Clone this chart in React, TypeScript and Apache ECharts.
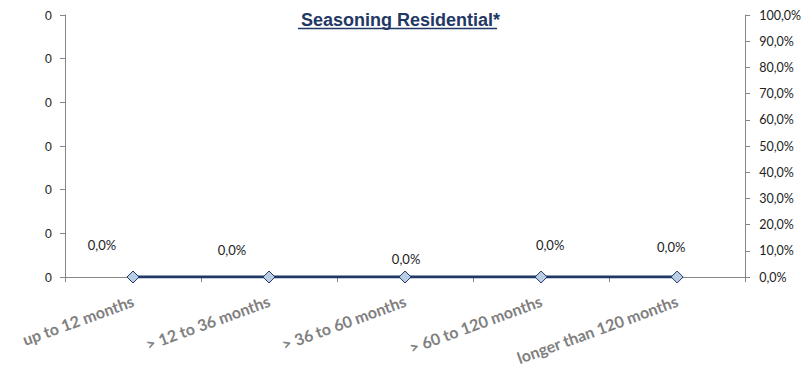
import React, { useEffect, useRef } from "react";
import * as echarts from "echarts";

const categories = [
  "up to 12 months",
  "> 12 to 36 months",
  "> 36 to 60 months",
  "> 60 to 120 months",
  "longer than 120 months",
];
const seriesValues = [0, 0, 0, 0, 0];
const leftTickLabels = ["0", "0", "0", "0", "0", "0", "0"];
const titleText = "Seasoning Residential*";

const labelOffsets: [number, number][] = [
  [-31, -32],
  [-37, -27],
  [1, -18],
  [9, -32],
  [-6, -30],
];

const NAVY = "#1F3864";

export default function App() {
  const ref = useRef<HTMLDivElement>(null);
  useEffect(() => {
    document.body.style.margin = "0";
    const chart = echarts.init(ref.current!, null, { renderer: "svg" });
    const fmtPct = (v: number) => (v * 100).toFixed(1).replace(".", ",") + "%";
    chart.setOption({
      animation: false,
      title: {
        text: titleText,
        left: 296,
        top: 6,
        textStyle: {
          fontFamily: "Liberation Sans",
          fontWeight: "bold",
          fontSize: 18,
          color: NAVY,
        },
      },
      graphic: [
        {
          type: "line",
          shape: { x1: 298, y1: 28.5, x2: 497, y2: 28.5 },
          style: { stroke: NAVY, lineWidth: 1.5 },
        },
      ],
      grid: { left: 65, right: 57, top: 15, bottom: 92, containLabel: false },
      xAxis: {
        type: "category",
        data: categories,
        boundaryGap: true,
        axisLine: { lineStyle: { color: "#868686", width: 1 } },
        axisTick: { show: true, length: 5, lineStyle: { color: "#868686" } },
        axisLabel: {
          rotate: 20,
          margin: 23,
          fontFamily: "Lato",
          fontWeight: "bold",
          fontSize: 16,
          color: "#808080",
          interval: 0,
        },
      },
      yAxis: [
        {
          type: "value",
          min: 0,
          max: 6,
          interval: 1,
          position: "left",
          axisLine: { show: true, lineStyle: { color: "#868686" } },
          axisTick: { show: true, length: 5, lineStyle: { color: "#868686" } },
          splitLine: { show: false },
          axisLabel: {
            margin: 13,
            fontFamily: "Liberation Sans",
            fontSize: 13,
            color: "#222",
            formatter: (_v: number, i: number) => leftTickLabels[i] ?? "0",
          },
        },
        {
          type: "value",
          min: 0,
          max: 1,
          interval: 0.1,
          position: "right",
          axisLine: { show: true, lineStyle: { color: "#868686" } },
          axisTick: { show: true, length: 5, lineStyle: { color: "#868686" } },
          splitLine: { show: false },
          axisLabel: {
            margin: 14,
            fontFamily: "Lato",
            fontSize: 12.5,
            color: "#222",
            formatter: (v: number) => fmtPct(v),
          },
        },
      ],
      series: [
        {
          type: "line",
          yAxisIndex: 1,
          data: seriesValues.map((v, i) => ({
            value: v,
            label: { offset: labelOffsets[i] },
          })),
          lineStyle: { color: NAVY, width: 3 },
          itemStyle: { color: "#B9CDE5", borderColor: NAVY, borderWidth: 1 },
          symbol: "diamond",
          symbolSize: [12, 12],
          showAllSymbol: true,
          label: {
            show: true,
            position: "inside",
            fontFamily: "Lato",
            fontSize: 13,
            color: "#222",
            formatter: (p: any) => fmtPct(p.value),
          },
          z: 3,
        },
      ],
    });
    return () => chart.dispose();
  }, []);
  return <div ref={ref} style={{ width: 804, height: 369 }} />;
}
